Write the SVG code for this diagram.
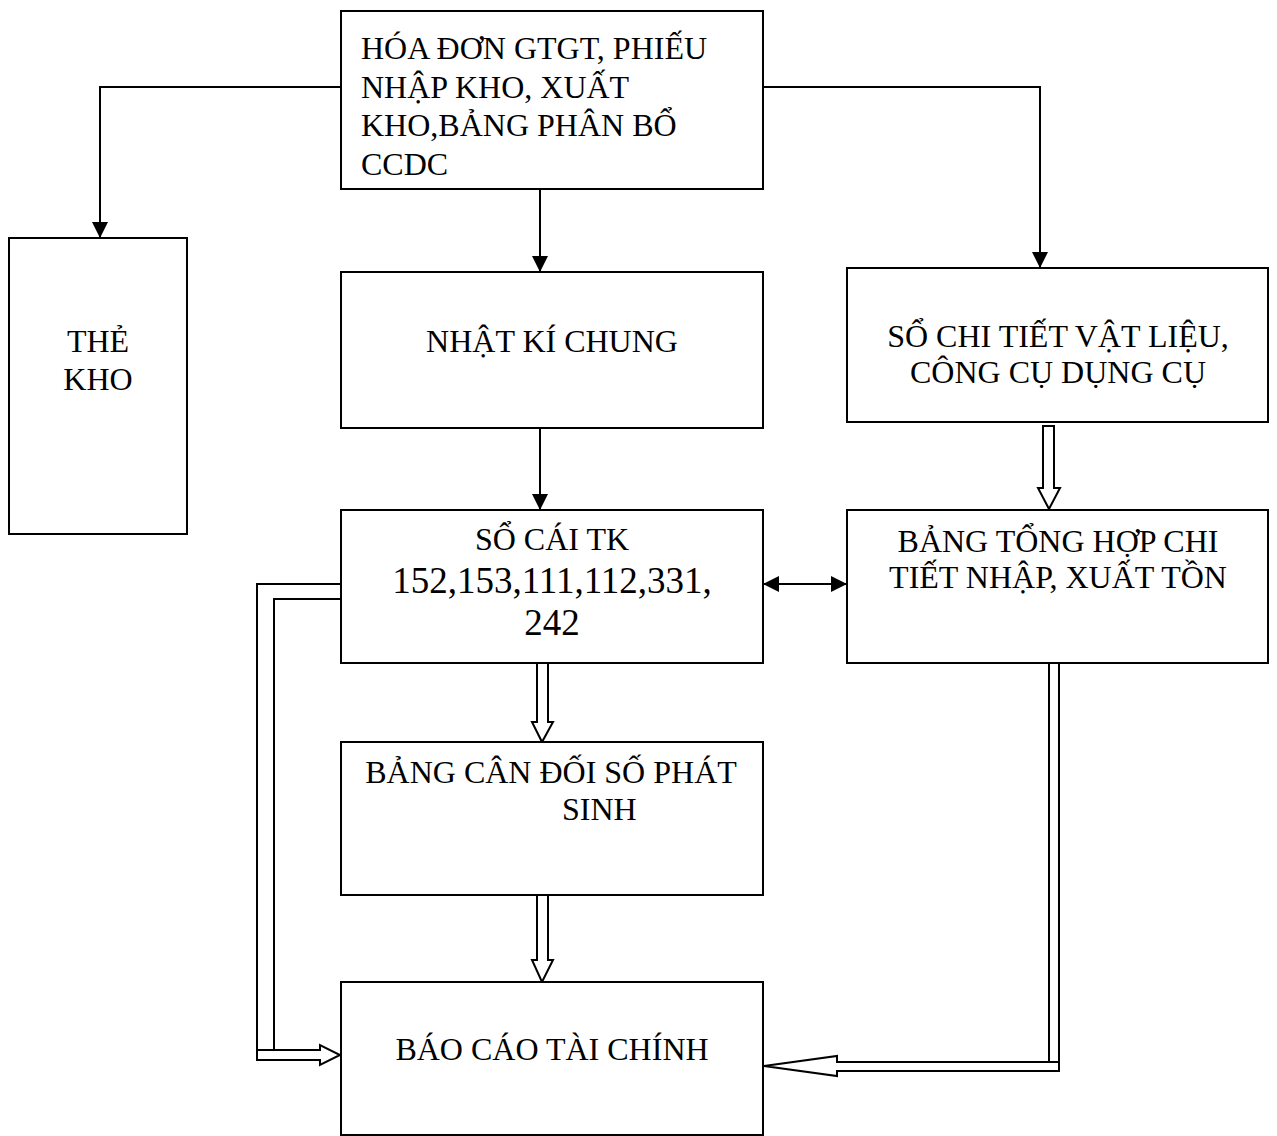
<svg xmlns="http://www.w3.org/2000/svg" width="1277" height="1136" viewBox="0 0 1277 1136">
<style>
.box{fill:#fff;stroke:#000;stroke-width:2}
.t{font-family:"Liberation Serif","Times New Roman",serif;font-size:32px;fill:#000}
.c{text-anchor:middle}
.ln{fill:none;stroke:#000;stroke-width:2}
.hollow{fill:#fff;stroke:#000;stroke-width:2;stroke-linejoin:miter}
</style>
<defs>
<marker id="ah" markerWidth="16" markerHeight="16" viewBox="0 0 16 16" refX="16" refY="8" orient="auto" markerUnits="userSpaceOnUse">
<path d="M0,0 L16,8 L0,16 Z" fill="#000"/>
</marker>
<marker id="ahs" markerWidth="16" markerHeight="16" viewBox="0 0 16 16" refX="0" refY="8" orient="auto" markerUnits="userSpaceOnUse">
<path d="M16,0 L0,8 L16,16 Z" fill="#000"/>
</marker>
</defs>
<rect width="1277" height="1136" fill="#fff"/>
<g id="connectors">
<polyline class="ln" points="341,87 100,87 100,238" marker-end="url(#ah)"/>
<polyline class="ln" points="763,87 1040,87 1040,268" marker-end="url(#ah)"/>
<line class="ln" x1="540" y1="189" x2="540" y2="272" marker-end="url(#ah)"/>
<line class="ln" x1="540" y1="428" x2="540" y2="510" marker-end="url(#ah)"/>
<line class="ln" x1="763" y1="584" x2="847" y2="584" marker-start="url(#ahs)" marker-end="url(#ah)"/>
<polygon class="hollow" points="1043,426 1054,426 1054,488 1060,488 1049,509 1038,488 1043,488"/>
<polygon class="hollow" points="537,663 548,663 548,722 553,722 542,742 532,722 537,722"/>
<polygon class="hollow" points="537,895 548,895 548,960 553,960 542,982 532,960 537,960"/>
<polyline class="ln" points="341,584 257,584 257,1055"/>
<polyline class="ln" points="341,599 274,599 274,1050"/>
<polygon class="hollow" points="257,1050 320,1050 320,1045 340,1055 320,1065 320,1060 257,1060"/>
<polyline class="ln" points="1049,663 1049,1062"/>
<polyline class="ln" points="1059,663 1059,1066"/>
<polygon class="hollow" points="1059,1062 837,1062 837,1056 764,1066 837,1076 837,1071 1059,1071"/>
</g>
<g id="node-hoadon">
<rect class="box" x="341" y="11" width="422" height="178"/>
<text class="t" x="361" y="59">HÓA ĐƠN GTGT, PHIẾU</text>
<text class="t" x="361" y="98">NHẬP KHO, XUẤT</text>
<text class="t" x="361" y="136">KHO,BẢNG PHÂN BỔ</text>
<text class="t" x="361" y="175">CCDC</text>
</g>
<g id="node-thekho">
<rect class="box" x="9" y="238" width="178" height="296"/>
<text class="t c" x="98" y="352">THẺ</text>
<text class="t c" x="98" y="390">KHO</text>
</g>
<g id="node-nhatki">
<rect class="box" x="341" y="272" width="422" height="156"/>
<text class="t c" x="552" y="352">NHẬT KÍ CHUNG</text>
</g>
<g id="node-sochitiet">
<rect class="box" x="847" y="268" width="421" height="154"/>
<text class="t c" x="1058" y="347">SỔ CHI TIẾT VẬT LIỆU,</text>
<text class="t c" x="1058" y="383">CÔNG CỤ DỤNG CỤ</text>
</g>
<g id="node-socai">
<rect class="box" x="341" y="510" width="422" height="153"/>
<text class="t c" x="552" y="550">SỔ CÁI TK</text>
<text class="t c" x="552" y="593" style="font-size:37px">152,153,111,112,331,</text>
<text class="t c" x="552" y="635" style="font-size:37px">242</text>
</g>
<g id="node-bangtonghop">
<rect class="box" x="847" y="510" width="421" height="153"/>
<text class="t c" x="1058" y="552">BẢNG TỔNG HỢP CHI</text>
<text class="t c" x="1058" y="588">TIẾT NHẬP, XUẤT TỒN</text>
</g>
<g id="node-bangcandoi">
<rect class="box" x="341" y="742" width="422" height="153"/>
<text class="t c" x="551" y="783">BẢNG CÂN ĐỐI SỐ PHÁT</text>
<text class="t" x="562" y="820">SINH</text>
</g>
<g id="node-baocao">
<rect class="box" x="341" y="982" width="422" height="153"/>
<text class="t c" x="552" y="1060">BÁO CÁO TÀI CHÍNH</text>
</g>
</svg>
